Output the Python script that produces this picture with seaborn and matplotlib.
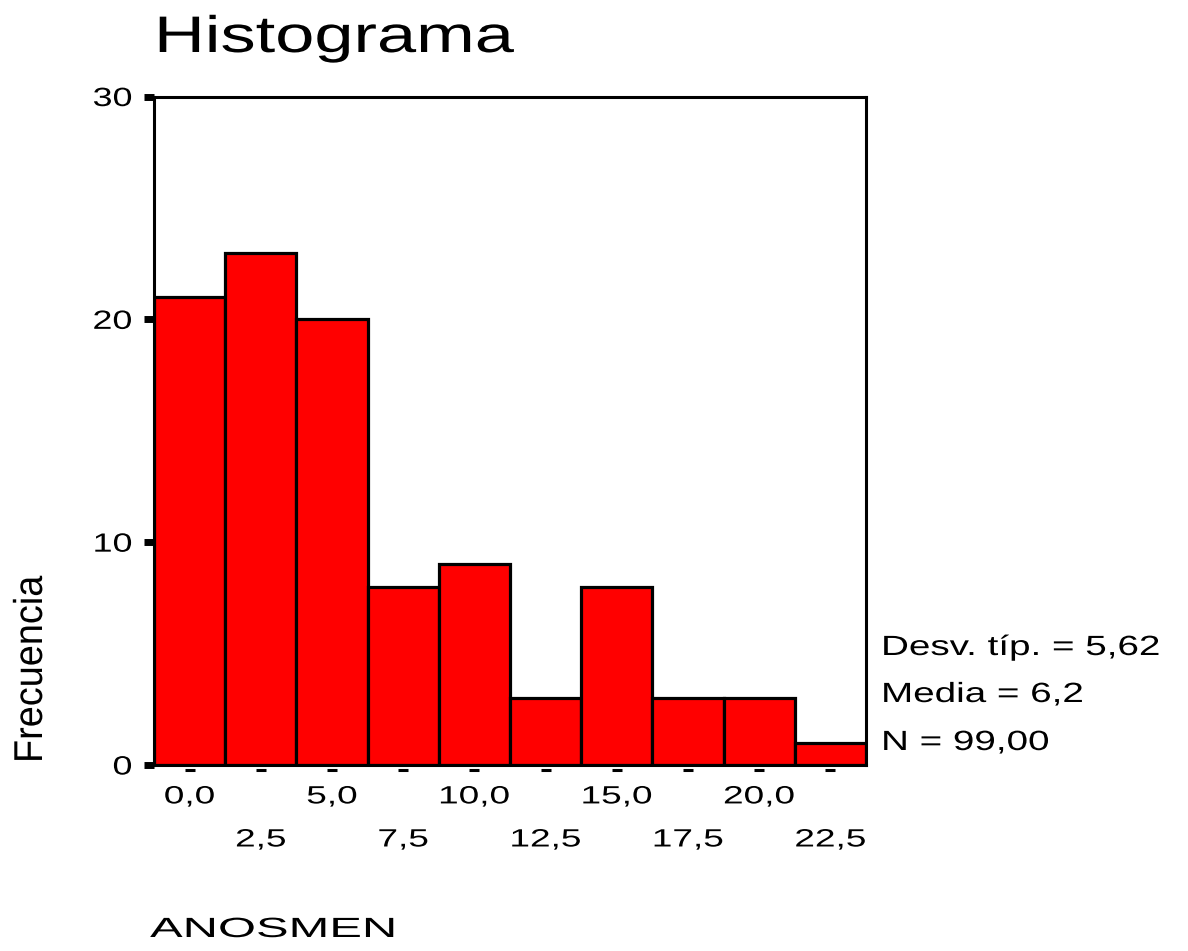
import numpy as np
import matplotlib
matplotlib.use("Agg")
import matplotlib.pyplot as plt
import seaborn as sns
from matplotlib.patheffects import AbstractPathEffect
from matplotlib.transforms import Affine2D, ScaledTranslation

# bin centres and frequencies
centers = [0.0, 2.5, 5.0, 7.5, 10.0, 12.5, 15.0, 17.5, 20.0, 22.5]
counts = [21, 23, 20, 8, 9, 3, 8, 3, 3, 1]
x_labels = ["0,0", "2,5", "5,0", "7,5", "10,0", "12,5", "15,0", "17,5", "20,0", "22,5"]
y_ticks = [0, 10, 20, 30]
y_labels = ["0", "10", "20", "30"]
stats = ["Desv. típ. = 5,62", "Media = 6,2", "N = 99,00"]
bin_width = 2.5


class Stretch(AbstractPathEffect):
    # the exported SPSS chart has horizontally widened text, mimic that
    def __init__(self, sx, anchor="left"):
        super().__init__()
        self.sx = sx
        self.anchor = anchor

    def draw_path(self, renderer, gc, tpath, affine, rgbFace=None):
        ext = tpath.get_extents()
        x0 = {"left": 0.0, "center": (ext.x0 + ext.x1) / 2, "right": ext.x1}[self.anchor]
        t = Affine2D().translate(-x0, 0).scale(self.sx, 1).translate(x0, 0)
        renderer.draw_path(gc, tpath, t + affine, rgbFace)


sns.set_style("white")
plt.rcParams["font.family"] = ["Liberation Sans", "DejaVu Sans"]
plt.rcParams["text.color"] = "black"

fig = plt.figure(figsize=(11.88, 9.51), dpi=100)
ax = fig.add_axes([0.1296, 0.1956, 0.5993, 0.7029])

sns.histplot(
    x=centers,
    weights=counts,
    binwidth=bin_width,
    binrange=(centers[0] - bin_width / 2, centers[-1] + bin_width / 2),
    color="#ff0000",
    edgecolor="black",
    linewidth=2.3,
    alpha=1,
    ax=ax,
)
ax.set_xlim(centers[0] - bin_width / 2, centers[-1] + bin_width / 2)
ax.set_ylim(0, 30)
ax.set_xlabel("")
ax.set_ylabel("")

for sp in ax.spines.values():
    sp.set_visible(True)
    sp.set_color("black")
    sp.set_linewidth(2.2)

# x labels in two staggered rows
ax.set_xticks(centers[::2])
ax.set_xticklabels(x_labels[::2])
ax.set_xticks(centers[1::2], minor=True)
ax.set_xticklabels(x_labels[1::2], minor=True)
ax.tick_params(axis="x", which="both", length=0, labelsize=18, labelcolor="black")
ax.tick_params(axis="x", which="major", pad=14)
ax.tick_params(axis="x", which="minor", pad=45)

ax.set_yticks(y_ticks)
ax.set_yticklabels(y_labels)
ax.tick_params(axis="y", left=True, length=7.2, width=5, direction="out",
               pad=8.6, labelsize=19, color="black", labelcolor="black")

for lbl in ax.get_xticklabels() + ax.get_xticklabels(minor=True):
    lbl.set_path_effects([Stretch(1.48, "center")])
for lbl in ax.get_yticklabels():
    lbl.set_path_effects([Stretch(1.36, "right")])

# little dashes under each bar centre
off = ScaledTranslation(0, -5.5 / 100, fig.dpi_scale_trans)
ax.plot(centers, np.zeros(len(centers)), ls="none", marker="_", ms=7.2, mew=2.2,
        color="black", transform=ax.transData + off, clip_on=False)

fig.text(0.1296, 1 - 52 / 951, "Histograma", fontsize=37, va="baseline",
         path_effects=[Stretch(1.37)])

for s, y in zip(stats, [655, 702, 750]):
    fig.text(0.7416, 1 - y / 951, s, fontsize=20, va="baseline",
             path_effects=[Stretch(1.39)])

fig.text(0.1263, 1 - 937 / 951, "ANOSMEN", fontsize=20, va="baseline",
         path_effects=[Stretch(1.76)])
fig.text(50 / 1188, 1 - 763 / 951, "Frecuencia", rotation=90, ha="right",
         va="bottom", fontsize=29, path_effects=[Stretch(0.94)])

fig.savefig("out.png", dpi=100)
